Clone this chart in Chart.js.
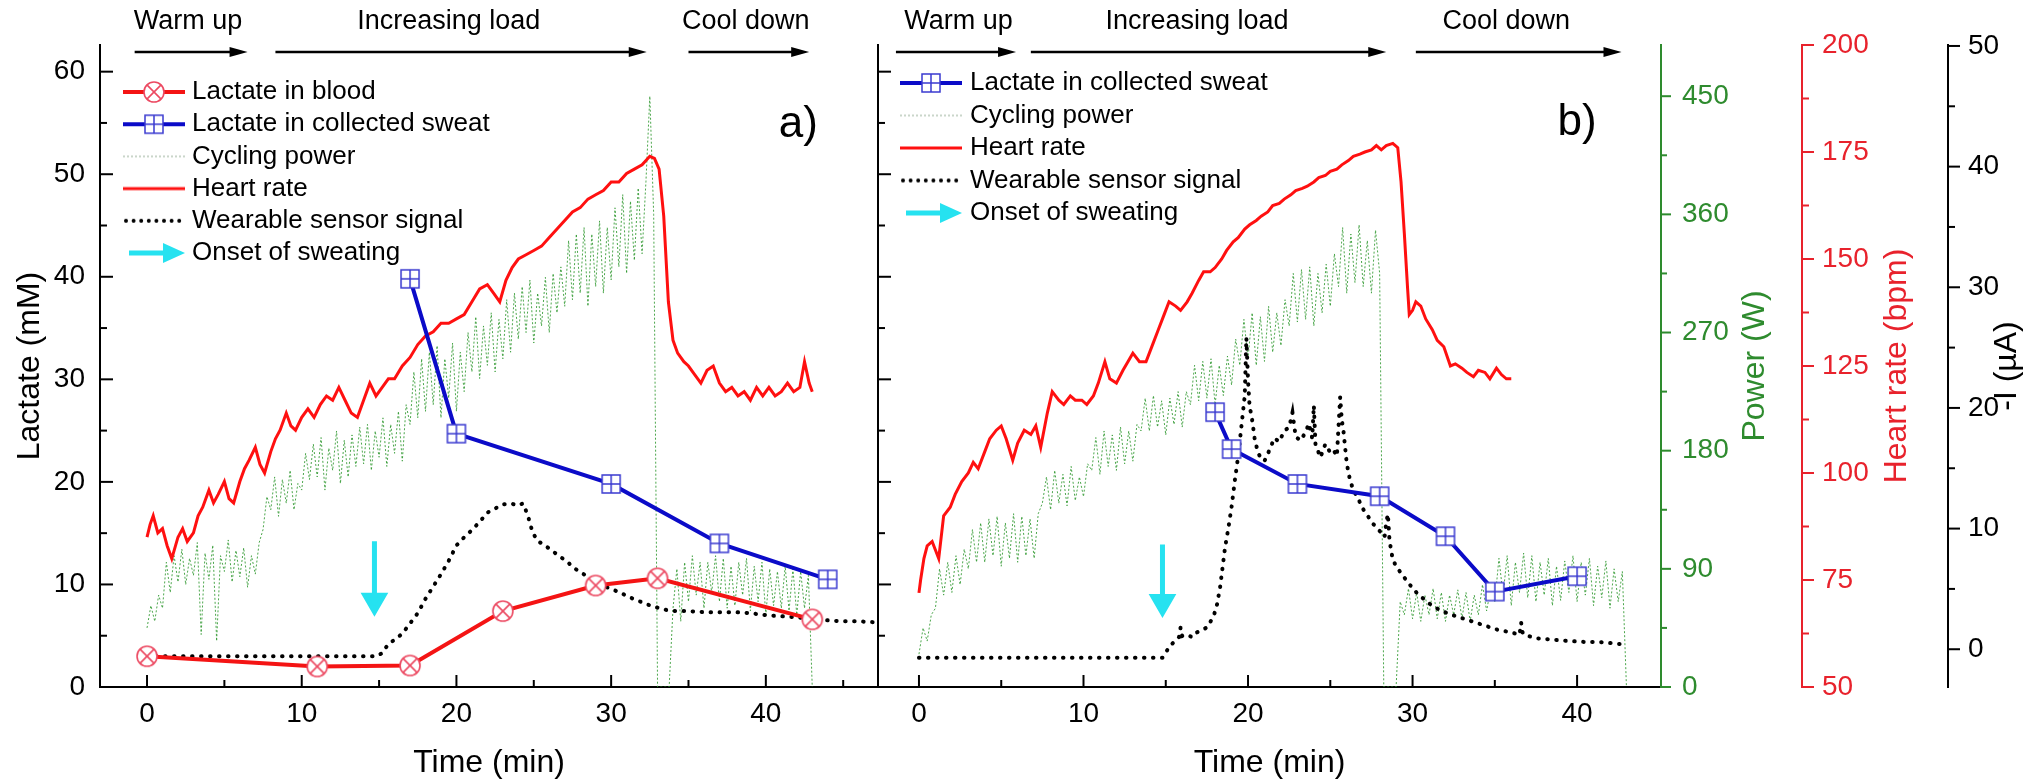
<!DOCTYPE html>
<html><head><meta charset="utf-8">
<script src="https://cdn.jsdelivr.net/npm/chart.js@4.4.1/dist/chart.umd.min.js"></script>
<style>
html,body{margin:0;padding:0;background:#fff;}
#wrap{position:relative;width:2024px;height:782px;background:#fff;}
canvas{position:absolute;left:0;top:0;}
</style></head><body>
<div id="wrap"><canvas id="c1" width="2024" height="782"></canvas><canvas id="c2" width="2024" height="782"></canvas></div>
<script>
// ---------------- tick labels ----------------
const timeTicks = [0, 10, 20, 30, 40];
const timeMinorA = [5, 15, 25, 35, 45];
const timeMinorB = [5, 15, 25, 35];
const lactTicks = [0, 10, 20, 30, 40, 50, 60];
const lactMinor = [5, 15, 25, 35, 45, 55];
const powerTicks = [0, 90, 180, 270, 360, 450];
const powerMinor = [45, 135, 225, 315, 405];
const hrTicks = [50, 75, 100, 125, 150, 175, 200];
const hrMinor = [62.5, 87.5, 112.5, 137.5, 162.5, 187.5];
const curTicks = [0, 10, 20, 30, 40, 50];
const curMinor = [5, 15, 25, 35, 45];

// ---------------- phases ----------------
const phaseNames = ['Warm up', 'Increasing load', 'Cool down'];
const phaseTextA = [2.65, 19.5, 38.7];
const phaseFromA = [-0.8, 8.3, 35.0];
const phaseToA = [6.5, 32.3, 42.8];
const phaseTextB = [2.4, 16.9, 35.7];
const phaseFromB = [-1.4, 6.8, 30.2];
const phaseToB = [5.9, 28.4, 42.7];

// ---------------- panel a ----------------
const bloodT = [0, 11, 17, 23, 29, 33, 43];
const bloodLactate = [3.0, 2.0, 2.1, 7.4, 9.9, 10.6, 6.6];
const sweatTA = [17, 20, 30, 37, 44];
const sweatLactateA = [39.8, 24.7, 19.8, 14.0, 10.5];
const onsetTA = [14.7, 14.7];
const onsetLactA = [14.2, 8.4];
const POWER_STEP = 0.25; // minutes between power samples
const powerA = [
 45,62,50,70, 60,95,72,100, 80,105,78,98, 85,110,40,102, 82,108,35,100,
 88,112,80,104, 84,106,76,100, 86,110,120,145, 135,160,130,158, 140,165,135,155,
 150,178,158,185, 160,190,150,182, 165,195,155,188, 160,192,168,198, 170,200,165,195,
 175,205,168,200, 178,210,172,215, 200,240,205,250, 210,255,215,260, 205,250,220,262,
 210,255,225,270, 240,282,235,275, 245,285,240,280, 250,295,255,300, 265,305,270,310,
 262,300,275,312, 270,315,285,320, 290,340,295,345, 300,350,290,345, 305,355,300,350,
 310,365,320,375, 315,370,325,380, 330,385,450,360, 0,0,0,0, 60,90,50,95,
 65,100,70,95, 60,95,72,100, 65,98,60,92, 62,95,70,98, 58,92,65,95,
 55,90,62,88, 60,92,58,90, 55,88,60,85, 0
];
const hrTA = [0,0.2,0.4,0.7,1,1.3,1.6,2,2.3,2.6,3,3.3,3.6,4,4.3,4.6,5,5.3,5.6,6,6.3,6.6,7,7.3,7.6,8,8.3,8.6,9,9.3,9.6,10,10.4,10.8,11.2,11.6,12,12.4,12.8,13.2,13.6,14,14.4,14.8,15.2,15.6,16,16.5,17,17.5,18,18.5,19,19.5,20,20.5,21,21.5,22,22.4,22.8,23.2,23.6,24,24.5,25,25.5,26,26.5,27,27.5,28,28.5,29,29.5,30,30.5,31,31.5,32,32.5,32.8,33.1,33.4,33.7,34,34.3,34.7,35,35.4,35.8,36.2,36.6,37,37.4,37.8,38.2,38.6,39,39.4,39.8,40.2,40.6,41,41.4,41.8,42.2,42.5,42.8,43];
const hrA = [85,88,90,86,87,83,80,85,87,84,86,90,92,96,93,95,98,94,93,98,101,103,106,102,100,105,108,110,114,111,110,113,115,113,116,118,117,120,117,114,113,117,121,118,120,122,122,125,127,130,132,133,135,135,136,137,140,143,144,142,140,145,148,150,151,152,153,155,157,159,161,162,164,165,166,168,168,170,171,172,174,173.5,171,160,140,131,128,126,125,123,121,124,125,121,119,120,118,119,117,120,118,120,118,119,121,119,120,126,121,119];
const wearTA = [0,5,10,14.8,15.2,15.6,16,16.5,17,17.5,18,18.5,19,19.5,20,20.5,21,21.5,22,22.5,23,23.5,24,24.3,24.6,24.9,25.2,25.6,26.1,26.6,27.1,27.6,28.1,28.6,29.1,29.6,30.1,30.6,31.1,31.6,32.1,32.6,33.1,33.6,34.2,35,36,37,38,39,40,41,42,43,44,45,46,47.2];
const wearLactA = [3.0,3.0,3.0,3.0,3.3,4.2,4.6,5.2,6.2,7.2,8.6,9.8,11.0,12.3,13.8,14.6,15.3,16.1,17.0,17.4,17.8,17.9,17.7,17.9,16.8,15.2,14.3,13.9,13.4,12.8,12.3,11.6,11.1,10.7,10.1,9.8,9.5,9.2,8.8,8.5,8.2,7.9,7.7,7.5,7.4,7.4,7.3,7.3,7.3,7.2,7.0,6.9,6.8,6.6,6.5,6.4,6.4,6.3];

// ---------------- panel b ----------------
const sweatTB = [18, 19, 23, 28, 32, 35, 40];
const sweatLactateB = [26.8, 23.2, 19.8, 18.6, 14.7, 9.3, 10.8];
const onsetTB = [14.8, 14.8];
const onsetLactB = [13.9, 8.3];
const powerB = [
 25,45,35,55, 60,90,70,95, 72,100,78,105, 90,120,95,125, 95,128,100,130,
 92,125,98,132, 95,130,100,128, 98,132,140,160, 135,165,140,162, 138,168,142,160,
 145,170,165,190, 162,195,168,192, 165,198,170,195, 172,200,195,220, 195,222,198,218,
 192,220,200,225, 198,225,215,245, 218,248,220,250, 215,245,222,252, 230,265,245,280,
 250,285,245,282, 248,290,255,285, 260,295,275,315, 278,318,280,320, 275,315,285,322,
 290,330,305,350, 300,345,308,352, 305,340,300,348, 315,0,0,0, 0,65,55,75,
 52,72,50,70, 55,75,52,72, 50,70,55,74, 52,72,50,70, 55,78,58,75,
 65,98,70,100, 62,95,72,102, 68,100,65,95, 70,98,62,92, 66,96,72,100,
 65,95,70,98, 62,92,68,96, 60,90,65,88, 0
];
const hrTB = [0,0.1,0.3,0.5,0.8,1.0,1.2,1.5,1.9,2.2,2.6,3.0,3.3,3.6,4.0,4.3,4.7,5.0,5.3,5.7,6.0,6.4,6.8,7.1,7.4,7.8,8.1,8.5,8.8,9.2,9.5,9.9,10.2,10.6,10.9,11.3,11.6,12.0,12.4,12.7,13.0,13.4,13.8,14.2,14.5,14.9,15.2,15.6,15.9,16.3,16.6,17.0,17.3,17.7,18.0,18.4,18.7,19.1,19.4,19.8,20.1,20.5,20.8,21.2,21.5,21.9,22.2,22.6,22.9,23.3,23.6,24.0,24.3,24.7,25.0,25.4,25.7,26.1,26.4,26.8,27.1,27.5,27.8,28.1,28.4,28.8,29.1,29.3,29.5,29.7,29.8,30.0,30.2,30.5,30.8,31.2,31.5,31.9,32.3,32.6,33.0,33.3,33.7,34.0,34.4,34.7,35.1,35.4,35.7,36.0];
const hrB = [72,75,80,83,84,82,80,90,92,95,98,100,102.5,101,105,108,110,111,108,103,107,110,109,111,106,114,119,117,116,118,117,117,116,118,121,126,122,121,124,126,128,126,126,130,133,137,140,139,138,140,142,145,147,147,148,150,152,154,155,157,158,159,160,161,162.5,163,164,165,166,166.5,167,168,169,169.5,170.5,171,172,173,174,174.5,175,175.5,176.5,175.5,176.5,177,176,168,156,143,137,138,140,139,136,133.5,131,129.5,125,125.5,124.5,123.5,122.5,124,123.5,122,124.5,123,122,122];
const wearTB = [0,14.8,15.0,15.2,15.5,15.8,15.9,16.0,16.3,16.6,16.9,17.2,17.5,17.9,18.1,18.3,18.6,18.8,19.0,19.2,19.4,19.6,19.8,19.9,20.0,20.1,20.2,20.4,20.6,20.8,21.0,21.3,21.6,21.9,22.2,22.5,22.7,22.9,23.2,23.5,23.7,23.9,24.0,24.1,24.4,24.7,25.0,25.2,25.4,25.6,25.7,25.8,26.0,26.2,26.4,26.7,26.9,27.2,27.6,28.0,28.3,28.4,28.5,28.6,28.8,29.0,29.3,29.8,30.3,31.0,31.7,32.5,33.4,34.3,35.2,36.0,36.5,36.6,36.7,37.0,37.6,38.4,39.3,40.5,41.3,42.1,42.8];
const wearCurrentB = [-0.7,-0.7,-0.3,0.2,0.6,1.0,1.8,1.1,1.2,1.0,1.4,1.6,1.8,2.7,3.6,5.1,8.4,10,11.8,14,16,18.5,21,25.8,22.3,20,19.5,17.5,16.3,15.8,15.6,16.5,17.5,17.2,18.1,18.4,19.6,17.6,17.3,18.0,18.7,17.5,20.2,17.0,15.9,17.0,16.3,16.5,16.0,20.9,19,18.1,15.4,14,13.2,12.5,11.8,11.2,10.4,9.8,9.3,10.5,11.2,9.0,7.4,6.9,6.3,5.4,4.6,3.8,3.2,2.8,2.4,2.0,1.6,1.4,1.2,2.2,1.3,1.1,0.9,0.8,0.7,0.6,0.6,0.5,0.4];

// ---------------- helpers ----------------
const FONT = '"Liberation Sans", Arial, Helvetica, sans-serif';
Chart.defaults.font.family = FONT;
Chart.defaults.color = '#000';
function pts(xs, ys) { return xs.map((x, i) => ({x: x, y: ys[i]})); }
function stepPts(t0, dt, ys) { return ys.map((y, i) => ({x: t0 + i * dt, y: y})); }
function fixedTicks(vals) { return (s) => { s.ticks = vals.map(v => ({value: v})); }; }
function mk(w, h, fn) { const c = document.createElement('canvas'); c.width = w; c.height = h; fn(c.getContext('2d'), w, h); return c; }

const C_RED = '#f41414', C_HR = '#ff1010', C_BLUE = '#0b0bc8', C_MARK_RED = '#ec4a62', C_MARK_BLUE = '#3a3ad0';
const C_GREEN = 'rgba(45,150,45,0.85)', C_CYAN = '#26e2f0', C_GAX = '#2e8b2e', C_RAX = '#e8222c';

function drawBloodMark(g, cx, cy) {
  g.fillStyle = '#fff'; g.beginPath(); g.arc(cx, cy, 10, 0, 2 * Math.PI); g.fill();
  g.strokeStyle = C_MARK_RED; g.lineWidth = 1.6; g.stroke();
  const d = 10 * Math.SQRT1_2; g.beginPath();
  g.moveTo(cx - d, cy - d); g.lineTo(cx + d, cy + d); g.moveTo(cx + d, cy - d); g.lineTo(cx - d, cy + d); g.stroke();
}
function drawSweatMark(g, cx, cy) {
  g.fillStyle = '#fff'; g.fillRect(cx - 9, cy - 9, 18, 18);
  g.strokeStyle = C_MARK_BLUE; g.lineWidth = 1.5; g.strokeRect(cx - 9, cy - 9, 18, 18);
  g.beginPath(); g.moveTo(cx, cy - 9); g.lineTo(cx, cy + 9); g.moveTo(cx - 9, cy); g.lineTo(cx + 9, cy); g.stroke();
}
const markBlood = mk(24, 24, (g) => drawBloodMark(g, 12, 12));
const markSweat = mk(22, 22, (g) => drawSweatMark(g, 11, 11));

const symBlood = mk(62, 26, (g, w, h) => { g.strokeStyle = C_RED; g.lineWidth = 4; g.beginPath(); g.moveTo(0, 13); g.lineTo(62, 13); g.stroke(); drawBloodMark(g, 31, 13); });
const symSweat = mk(62, 26, (g) => { g.strokeStyle = C_BLUE; g.lineWidth = 4; g.beginPath(); g.moveTo(0, 13); g.lineTo(62, 13); g.stroke(); drawSweatMark(g, 31, 13); });
const symPower = mk(62, 26, (g) => { g.strokeStyle = '#b9c9b9'; g.lineWidth = 1.5; g.setLineDash([2, 2]); g.beginPath(); g.moveTo(0, 13); g.lineTo(62, 13); g.stroke(); });
const symHR = mk(62, 26, (g) => { g.strokeStyle = C_HR; g.lineWidth = 3; g.beginPath(); g.moveTo(0, 13); g.lineTo(62, 13); g.stroke(); });
const symWear = mk(62, 26, (g) => { g.fillStyle = '#000'; for (let x = 3; x < 62; x += 7.6) { g.beginPath(); g.arc(x, 13, 2, 0, 2 * Math.PI); g.fill(); } });
const symOnset = mk(62, 26, (g) => { g.strokeStyle = C_CYAN; g.fillStyle = C_CYAN; g.lineWidth = 5; g.beginPath(); g.moveTo(6, 13); g.lineTo(44, 13); g.stroke(); g.beginPath(); g.moveTo(62, 13); g.lineTo(40, 3); g.lineTo(40, 23); g.closePath(); g.fill(); });

// ---------------- plugins ----------------
const tickMarks = {
  id: 'tickMarks',
  afterDraw(chart, args, o) {
    const ctx = chart.ctx;
    o.axes.forEach(a => {
      const s = chart.scales[a.id];
      ctx.save(); ctx.strokeStyle = a.color; ctx.lineWidth = 2;
      const draw = (v, len) => {
        const p = s.getPixelForValue(v);
        ctx.beginPath();
        if (a.side === 'bottom') { ctx.moveTo(p, s.top); ctx.lineTo(p, s.top - len); }
        else if (a.side === 'left') { ctx.moveTo(s.right, p); ctx.lineTo(s.right + len, p); }
        else { ctx.moveTo(s.left, p); ctx.lineTo(s.left + len, p); }
        ctx.stroke();
      };
      a.major.forEach(v => draw(v, a.len[0]));
      a.minor.forEach(v => draw(v, a.len[1]));
      ctx.restore();
    });
  }
};
const customLegend = {
  id: 'customLegend',
  afterDraw(chart, args, o) {
    const ctx = chart.ctx; ctx.save();
    ctx.font = o.size + 'px ' + FONT; ctx.textBaseline = 'middle'; ctx.textAlign = 'left'; ctx.fillStyle = '#000';
    o.items.forEach((it, i) => {
      const ds = chart.data.datasets[it.ds];
      const y = o.y0 + i * o.dy;
      ctx.drawImage(it.sym, o.symX - it.sym.width / 2, y - it.sym.height / 2);
      ctx.fillText(ds.label, o.textX, y);
    });
    ctx.restore();
  }
};
const annot = {
  id: 'annot',
  afterDraw(chart, args, o) {
    const ctx = chart.ctx, xs = chart.scales.x, ys = chart.scales[o.yId];
    ctx.save();
    ctx.fillStyle = '#000'; ctx.strokeStyle = '#000';
    ctx.font = '27px ' + FONT; ctx.textAlign = 'center'; ctx.textBaseline = 'middle';
    phaseNames.forEach((n, i) => {
      ctx.fillText(n, xs.getPixelForValue(o.textAt[i]), o.textY);
      const x1 = xs.getPixelForValue(o.from[i]), x2 = xs.getPixelForValue(o.to[i]);
      ctx.lineWidth = 2.5; ctx.beginPath(); ctx.moveTo(x1, o.arrowY); ctx.lineTo(x2 - 12, o.arrowY); ctx.stroke();
      ctx.beginPath(); ctx.moveTo(x2, o.arrowY); ctx.lineTo(x2 - 18, o.arrowY - 5); ctx.lineTo(x2 - 18, o.arrowY + 5); ctx.closePath(); ctx.fill();
    });
    ctx.font = '44px ' + FONT;
    ctx.fillText(o.panel, xs.getPixelForValue(o.panelX), ys.getPixelForValue(o.panelY));
    (o.titles || []).forEach(t => {
      const s = chart.scales[t.id];
      ctx.save();
      ctx.translate(s.left + t.dx, (s.top + s.bottom) / 2);
      ctx.rotate(-Math.PI / 2);
      ctx.fillStyle = t.color; ctx.font = '32px ' + FONT;
      ctx.fillText(t.text, 0, 0);
      ctx.restore();
    });
    ctx.restore();
  }
};

const noGrid = {display: false, drawTicks: false};
function border(c) { return {display: true, color: c, width: 2}; }

// ---------------- chart a ----------------
new Chart(document.getElementById('c1'), {
  type: 'line',
  data: {datasets: [
    {label: 'Lactate in blood', data: pts(bloodT, bloodLactate), yAxisID: 'yL', borderColor: C_RED, borderWidth: 4, pointStyle: markBlood, pointRadius: 10, order: 1},
    {label: 'Lactate in collected sweat', data: pts(sweatTA, sweatLactateA), yAxisID: 'yL', borderColor: C_BLUE, borderWidth: 4, pointStyle: markSweat, pointRadius: 10, order: 2},
    {label: 'Cycling power', data: stepPts(0, POWER_STEP, powerA), yAxisID: 'yP', borderColor: C_GREEN, borderWidth: 1, borderDash: [2, 2], pointRadius: 0, order: 5},
    {label: 'Heart rate', data: pts(hrTA, hrA), yAxisID: 'yH', borderColor: C_HR, borderWidth: 3, pointRadius: 0, order: 4},
    {label: 'Wearable sensor signal', data: pts(wearTA, wearLactA), yAxisID: 'yL', borderColor: '#000', borderWidth: 4, borderDash: [0.5, 8.5], borderCapStyle: 'round', pointRadius: 0, order: 3},
    {label: 'Onset of sweating', data: pts(onsetTA, onsetLactA), yAxisID: 'yL', borderColor: C_CYAN, borderWidth: 5, pointStyle: 'triangle', pointRotation: 180, pointRadius: (c) => c.dataIndex === 1 ? 11 : 0, pointBackgroundColor: C_CYAN, pointBorderColor: C_CYAN, order: 0}
  ]},
  options: {
    responsive: false, animation: false, events: [],
    layout: {padding: {left: 0, top: 45, right: 1146, bottom: 0}},
    plugins: {
      legend: {display: false}, tooltip: {enabled: false},
      tickMarks: {axes: [
        {id: 'x', side: 'bottom', major: timeTicks, minor: timeMinorA, len: [12, 7], color: '#000'},
        {id: 'yL', side: 'left', major: lactTicks, minor: lactMinor, len: [13, 7], color: '#000'}
      ]},
      customLegend: {size: 26, symX: 154, textX: 192, y0: 92, dy: 32.2, items: [
        {ds: 0, sym: symBlood}, {ds: 1, sym: symSweat}, {ds: 2, sym: symPower}, {ds: 3, sym: symHR}, {ds: 4, sym: symWear}, {ds: 5, sym: symOnset}
      ]},
      annot: {yId: 'yL', textAt: phaseTextA, from: phaseFromA, to: phaseToA, textY: 22, arrowY: 52, panel: 'a)', panelX: 42.1, panelY: 54.8}
    },
    scales: {
      x: {type: 'linear', min: -3.04, max: 47.25, afterBuildTicks: fixedTicks(timeTicks), afterFit: (s) => { s.height = 95; },
          grid: noGrid, border: border('#000'), ticks: {padding: 10, font: {size: 28}, color: '#000'},
          title: {display: true, text: 'Time (min)', font: {size: 32}, padding: {top: 0, bottom: 0}, color: '#000'}},
      yL: {type: 'linear', position: 'left', min: 0, max: 62.6, afterBuildTicks: fixedTicks(lactTicks), afterFit: (s) => { s.width = 100; },
          grid: noGrid, border: border('#000'), ticks: {padding: 15, font: {size: 28}, color: '#000'},
          title: {display: true, text: 'Lactate (mM)', font: {size: 32}, padding: {top: 11, bottom: 0}, color: '#000'}},
      yP: {type: 'linear', display: false, min: 0, max: 489},
      yH: {type: 'linear', display: false, min: 50, max: 200}
    }
  },
  plugins: [tickMarks, customLegend, annot]
});

// ---------------- chart b ----------------
new Chart(document.getElementById('c2'), {
  type: 'line',
  data: {datasets: [
    {label: 'Lactate in collected sweat', data: pts(sweatTB, sweatLactateB), yAxisID: 'yLact', borderColor: C_BLUE, borderWidth: 4, pointStyle: markSweat, pointRadius: 10, order: 1},
    {label: 'Cycling power', data: stepPts(0, POWER_STEP, powerB), yAxisID: 'yPower', borderColor: C_GREEN, borderWidth: 1, borderDash: [2, 2], pointRadius: 0, order: 4},
    {label: 'Heart rate', data: pts(hrTB, hrB), yAxisID: 'yHR', borderColor: C_HR, borderWidth: 3, pointRadius: 0, order: 3},
    {label: 'Wearable sensor signal', data: pts(wearTB, wearCurrentB), yAxisID: 'yI', borderColor: '#000', borderWidth: 4, borderDash: [0.5, 8.5], borderCapStyle: 'round', pointRadius: 0, order: 2},
    {label: 'Onset of sweating', data: pts(onsetTB, onsetLactB), yAxisID: 'yLact', borderColor: C_CYAN, borderWidth: 5, pointStyle: 'triangle', pointRotation: 180, pointRadius: (c) => c.dataIndex === 1 ? 11 : 0, pointBackgroundColor: C_CYAN, pointBorderColor: C_CYAN, order: 0}
  ]},
  options: {
    responsive: false, animation: false, events: [],
    layout: {padding: {left: 0, top: 45, right: 0, bottom: 0}},
    plugins: {
      legend: {display: false}, tooltip: {enabled: false},
      tickMarks: {axes: [
        {id: 'x', side: 'bottom', major: timeTicks, minor: timeMinorB, len: [12, 7], color: '#000'},
        {id: 'yLact', side: 'left', major: lactTicks, minor: lactMinor, len: [13, 7], color: '#000'},
        {id: 'yPower', side: 'right', major: powerTicks, minor: powerMinor, len: [10, 6], color: C_GAX},
        {id: 'yHR', side: 'right', major: hrTicks, minor: hrMinor, len: [12, 7], color: C_RAX},
        {id: 'yI', side: 'right', major: curTicks, minor: curMinor, len: [12, 7], color: '#000'}
      ]},
      customLegend: {size: 26, symX: 931, textX: 970, y0: 83, dy: 32.5, items: [
        {ds: 0, sym: symSweat}, {ds: 1, sym: symPower}, {ds: 2, sym: symHR}, {ds: 3, sym: symWear}, {ds: 4, sym: symOnset}
      ]},
      annot: {yId: 'yLact', textAt: phaseTextB, from: phaseFromB, to: phaseToB, textY: 22, arrowY: 52, panel: 'b)', panelX: 40.0, panelY: 55.0,
        titles: [
          {id: 'yPower', dx: 94, text: 'Power (W)', color: C_GAX},
          {id: 'yHR', dx: 95, text: 'Heart rate (bpm)', color: C_RAX},
          {id: 'yI', dx: 59, text: '-I (µA)', color: '#000'}
        ]}
    },
    scales: {
      x: {type: 'linear', min: -2.49, max: 45.1, afterBuildTicks: fixedTicks(timeTicks), afterFit: (s) => { s.height = 95; },
          grid: noGrid, border: border('#000'), ticks: {padding: 10, font: {size: 28}, color: '#000'},
          title: {display: true, text: 'Time (min)', font: {size: 32}, padding: {top: 0, bottom: 0}, color: '#000'}},
      yLact: {type: 'linear', position: 'left', min: 0, max: 62.6, afterBuildTicks: fixedTicks(lactTicks), afterFit: (s) => { s.width = 878; },
          grid: noGrid, border: border('#000'), ticks: {display: false}},
      yPower: {type: 'linear', position: 'right', weight: 0, min: 0, max: 489, afterBuildTicks: fixedTicks(powerTicks), afterFit: (s) => { s.width = 141; },
          grid: noGrid, border: border(C_GAX), ticks: {padding: 21, font: {size: 28}, color: C_GAX}},
      yHR: {type: 'linear', position: 'right', weight: 1, min: 50, max: 200, afterBuildTicks: fixedTicks(hrTicks), afterFit: (s) => { s.width = 146; },
          grid: noGrid, border: border(C_RAX), ticks: {padding: 20, font: {size: 28}, color: C_RAX}},
      yI: {type: 'linear', position: 'right', weight: 2, min: -3.13, max: 50.08, afterBuildTicks: fixedTicks(curTicks), afterFit: (s) => { s.width = 76; },
          grid: noGrid, border: border('#000'), ticks: {padding: 20, font: {size: 28}, color: '#000'}}
    }
  },
  plugins: [tickMarks, customLegend, annot]
});
</script>
</body></html>
